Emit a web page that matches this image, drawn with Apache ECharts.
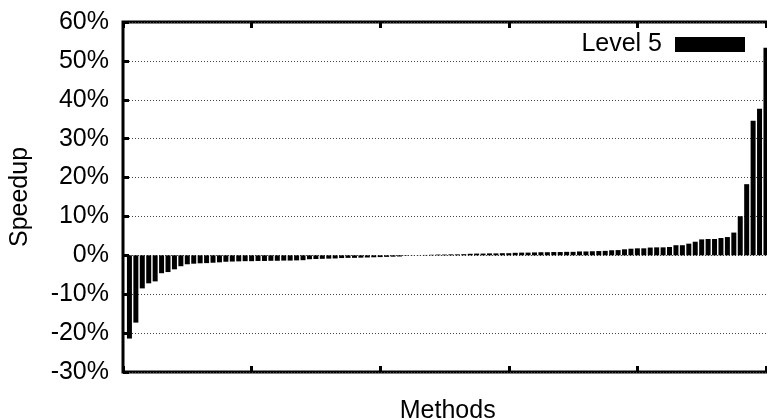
<!DOCTYPE html>
<html>
<head>
<meta charset="utf-8">
<script src="https://cdn.jsdelivr.net/npm/echarts@6/dist/echarts.min.js"></script>
<style>
  html, body { margin: 0; padding: 0; background: #fff; }
  #chart { width: 767px; height: 419px; }
</style>
</head>
<body>
<div id="chart"></div>
<script>
// Per-method speedup (%) at optimisation level 5, sorted ascending.
const methodIndex = Array.from({ length: 100 }, (_, i) => i + 1);
const speedupLevel5 = [
  -21.4, -17.3, -8.5, -7.2, -6.7, -4.6, -4.3, -3.6, -2.8, -2.3,
  -2.15, -2.05, -2.0, -1.9, -1.8, -1.65, -1.6, -1.55, -1.5, -1.5,
  -1.45, -1.45, -1.4, -1.4, -1.35, -1.35, -1.3, -1.25, -1.0, -0.95,
  -0.9, -0.85, -0.8, -0.7, -0.65, -0.65, -0.6, -0.55, -0.5, -0.45,
  -0.4, -0.35, -0.3, -0.1, -0.05, 0.05, 0.1, 0.15, 0.2, 0.2,
  0.25, 0.25, 0.3, 0.4, 0.45, 0.45, 0.5, 0.5, 0.55, 0.55,
  0.65, 0.7, 0.7, 0.75, 0.8, 0.8, 0.85, 0.85, 0.9, 0.9,
  1.0, 1.0, 1.05, 1.1, 1.15, 1.3, 1.35, 1.55, 1.7, 1.8,
  1.8, 2.0, 2.05, 2.05, 2.15, 2.6, 2.6, 3.0, 3.5, 4.1,
  4.2, 4.2, 4.45, 4.7, 5.85, 10.05, 18.3, 34.6, 37.7, 53.4
];
const yTicks = [-30, -20, -10, 0, 10, 20, 30, 40, 50, 60];
const seriesName = 'Level 5';

const FONT = 'Liberation Sans';
const chart = echarts.init(document.getElementById('chart'), null, { renderer: 'canvas' });

// Bottom and mirrored top x axes: inward ticks only, pinned to the frame edges.
const frameX = {
  type: 'value',
  min: 0,
  max: 101,
  interval: 20,
  axisLine: { show: false, onZero: false },
  axisLabel: { show: false },
  axisTick: { show: true, inside: true, length: 6, lineStyle: { color: '#000', width: 3 } },
  splitLine: { show: false }
};

chart.setOption({
  animation: false,
  backgroundColor: '#fff',
  textStyle: { fontFamily: FONT },
  grid: {
    left: 123, top: 22, width: 649.4, height: 350,
    outerBoundsMode: 'none',
    show: true, borderColor: '#000', borderWidth: 3, backgroundColor: 'transparent',
    containLabel: false
  },
  legend: {
    data: [seriesName],
    right: 17, top: 27,
    align: 'right',
    icon: 'rect',
    itemWidth: 70, itemHeight: 15,
    textStyle: { fontFamily: FONT, fontSize: 25, color: '#000', padding: [0, 8, 0, 0] }
  },
  xAxis: [
    Object.assign({}, frameX, {
      position: 'bottom',
      name: 'Methods', nameLocation: 'middle', nameGap: 27,
      nameTextStyle: { fontFamily: FONT, fontSize: 25, color: '#000' }
    }),
    Object.assign({}, frameX, { position: 'top' })
  ],
  yAxis: {
    type: 'value',
    min: yTicks[0], max: yTicks[yTicks.length - 1], interval: 10,
    name: 'Speedup', nameLocation: 'middle', nameGap: 90,
    nameTextStyle: { fontFamily: FONT, fontSize: 25, color: '#000' },
    axisLine: { show: false },
    axisTick: { show: true, inside: true, length: 6, lineStyle: { color: '#000', width: 3 } },
    axisLabel: {
      margin: 14, fontFamily: FONT, fontSize: 25, color: '#000',
      formatter: v => yTicks.includes(v) ? v + '%' : ''
    },
    splitLine: { show: true, lineStyle: { color: '#444', width: 1, type: [1, 2] } }
  },
  series: [{
    name: seriesName,
    type: 'bar',
    xAxisIndex: 0,
    barWidth: 5,
    itemStyle: { color: '#000' },
    data: methodIndex.map((m, i) => [m, speedupLevel5[i]])
  }]
});
</script>
</body>
</html>
